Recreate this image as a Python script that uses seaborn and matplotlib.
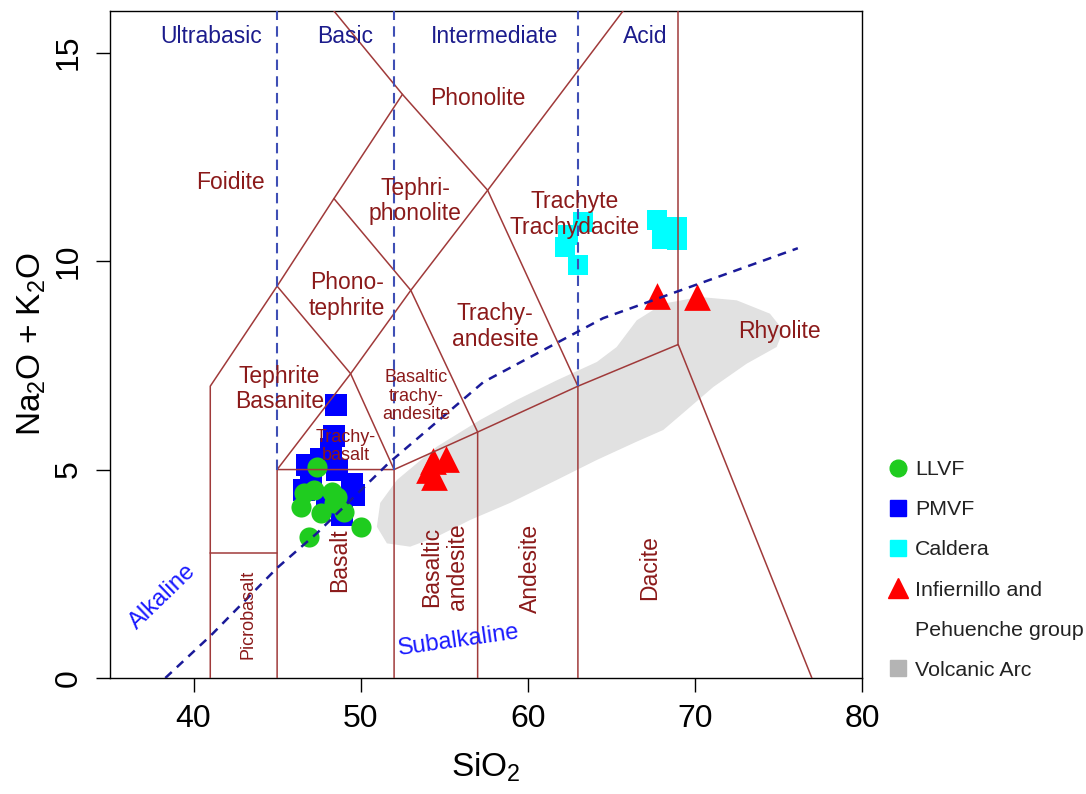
import numpy as np
import pandas as pd
import seaborn as sns
import matplotlib
matplotlib.use("Agg")
import matplotlib.pyplot as plt
from matplotlib.lines import Line2D
from matplotlib.patches import Polygon

# samples (SiO2 wt%, Na2O+K2O wt%)
llvf_sio2 = [47.4, 46.6, 47.2, 48.3, 46.4, 47.6, 48.4, 49.0, 50.0, 46.9, 48.6]
llvf_alk = [5.07, 4.43, 4.50, 4.47, 4.11, 3.96, 4.20, 3.99, 3.63, 3.39, 4.35]

pmvf_sio2 = [48.5, 48.4, 48.2, 46.8, 47.6, 48.6, 47.0, 49.5, 49.6, 48.9, 46.6, 48.0]
pmvf_alk = [6.55, 5.80, 5.50, 5.10, 5.25, 5.00, 4.70, 4.65, 4.40, 3.90, 4.50, 4.30]

caldera_sio2 = [63.3, 62.4, 62.2, 63.0, 67.75, 68.95, 68.05, 68.95, 68.3]
caldera_alk = [10.95, 10.62, 10.35, 9.90, 10.98, 10.82, 10.54, 10.50, 10.70]

infpeh_sio2 = [67.75, 70.1, 54.3, 55.1, 54.4, 54.1]
infpeh_alk = [9.16, 9.13, 5.20, 5.25, 4.82, 5.00]

# volcanic arc field outline
arc_sio2 = [50.97, 51.17, 52.17, 54.56, 57.15, 59.34, 61.73, 64.13, 65.32, 66.52,
            68.11, 70.30, 72.50, 74.49, 75.29, 74.89, 73.10, 71.10, 69.51, 68.11,
            66.52, 64.13, 61.73, 58.94, 56.55, 54.56, 52.96, 51.57]
arc_alk = [3.63, 4.20, 4.75, 5.55, 6.19, 6.67, 7.14, 7.58, 7.94, 8.58,
           8.98, 9.14, 9.06, 8.74, 8.34, 7.94, 7.54, 6.98, 6.43, 5.95,
           5.67, 5.23, 4.75, 4.20, 3.79, 3.39, 3.15, 3.23]

# alkaline / subalkaline divide
alk_div_sio2 = [38.31, 41.06, 45.0, 47.4, 51.66, 57.35, 64.5, 72.69, 76.16]
alk_div_total = [0.0, 1.03, 2.64, 3.48, 5.15, 7.10, 8.63, 9.81, 10.31]

# TAS field boundaries (Le Bas et al. 1986)
tas_lines = [
    [(41, 0), (41, 7), (45, 9.4), (48.4, 11.5), (52.5, 14), (48.4, 16)],
    [(41, 3), (45, 3)],
    [(45, 0), (45, 5), (49.4, 7.3), (53, 9.3), (57.6, 11.7), (65.7, 16)],
    [(45, 9.4), (49.4, 7.3), (52, 5), (52, 0)],
    [(45, 5), (52, 5), (57, 5.9), (63, 7), (69, 8), (77, 0)],
    [(48.4, 11.5), (53, 9.3), (57, 5.9), (57, 0)],
    [(52.5, 14), (57.6, 11.7), (63, 7), (63, 0)],
    [(69, 8), (69, 16)],
]

# silica classes
class_bounds = [(45, 5), (52, 5), (63, 7)]
class_names = ["Ultrabasic", "Basic", "Intermediate", "Acid"]
class_x = [41.07, 49.07, 58.04, 67.0]

field_names = ["Phonolite", "Foidite", "Tephri-\nphonolite", "Trachyte\nTrachydacite",
               "Phono-\ntephrite", "Trachy-\nandesite", "Rhyolite", "Tephrite\nBasanite",
               "Basalt", "Basaltic\nandesite", "Andesite", "Dacite"]
field_x = [57.03, 42.19, 53.26, 62.83, 49.19, 58.04, 75.03, 45.13, 48.77, 55.0, 60.14, 67.31]
field_y = [13.9, 11.89, 11.44, 11.12, 9.18, 8.44, 8.30, 6.93, 2.83, 2.66, 2.64, 2.64]
field_rot = [0, 0, 0, 0, 0, 0, 0, 0, 90, 90, 90, 90]

small_names = ["Basaltic\ntrachy-\nandesite", "Trachy-\nbasalt", "Picrobasalt"]
small_x = [53.32, 49.13, 43.27]
small_y = [6.76, 5.56, 1.53]
small_rot = [0, 0, 90]

sns.set_theme(style="white")
plt.rcParams["font.family"] = ["Liberation Sans", "DejaVu Sans"]
plt.rcParams["mathtext.fontset"] = "custom"
plt.rcParams["mathtext.rm"] = "Liberation Sans"
plt.rcParams["mathtext.it"] = "Liberation Sans:italic"

LINE_C = "#a03a3a"
FIELD_C = "#8b1a1a"
CLASS_C = "#1c1c8c"

fig = plt.figure(figsize=(10.86, 7.94), dpi=100)
ax = fig.add_axes([110 / 1086, 1 - 678 / 794, 752 / 1086, 667 / 794])

ax.add_patch(Polygon(np.column_stack([arc_sio2, arc_alk]), closed=True,
                     facecolor="#e1e1e1", edgecolor="none", zorder=1))

# PMVF first so the LLVF circles sit on top, as in the original
groups = [
    (pmvf_sio2, pmvf_alk, "#0000ff", "s", 230),
    (llvf_sio2, llvf_alk, "#1fcc1f", "o", 210),
    (caldera_sio2, caldera_alk, "#00ffff", "s", 210),
    (infpeh_sio2, infpeh_alk, "#ff0000", "^", 370),
]
for xs, ys, col, mk, sz in groups:
    d = pd.DataFrame({"SiO2": xs, "alk": ys})
    sns.scatterplot(data=d, x="SiO2", y="alk", color=col, marker=mk, s=sz,
                    linewidth=0, legend=False, ax=ax, zorder=2)

for seg in tas_lines:
    xs, ys = zip(*seg)
    ax.plot(xs, ys, color=LINE_C, lw=1.1, zorder=3)

for xb, yb in class_bounds:
    ax.plot([xb, xb], [yb, 16], color="#3f4fb5", lw=1.5, ls=(0, (5, 3)), zorder=3)

ax.plot(alk_div_sio2, alk_div_total, color="#1a1a99", lw=1.8, ls=(0, (3.5, 2.8)), zorder=3)

for name, x in zip(class_names, class_x):
    ax.text(x, 15.38, name, color=CLASS_C, fontsize=16.5, ha="center", va="center", zorder=4)

for name, x, y, r in zip(field_names, field_x, field_y, field_rot):
    ax.text(x, y, name, color=FIELD_C, fontsize=16.5, ha="center", va="center",
            rotation=r, linespacing=1.15, zorder=4)

for name, x, y, r in zip(small_names, small_x, small_y, small_rot):
    ax.text(x, y, name, color=FIELD_C, fontsize=13, ha="center", va="center",
            rotation=r, linespacing=1.1, zorder=4)

ax.text(38.13, 1.94, "Alkaline", color="#1a1aff", fontsize=17, ha="center", va="center",
        rotation=44, zorder=4)
ax.text(55.89, 0.91, "Subalkaline", color="#1a1aff", fontsize=17, ha="center", va="center",
        rotation=8, zorder=4)

ax.set_xlim(35, 80)
ax.set_ylim(0, 16)
ax.set_xticks([40, 50, 60, 70, 80])
ax.set_yticks([0, 5, 10, 15])
ax.tick_params(axis="both", direction="out", length=10, width=1, labelsize=23,
               pad=9, colors="black", bottom=True, left=True)
ax.tick_params(axis="y", labelrotation=90)
for lab in ax.get_yticklabels():
    lab.set_va("center")
for sp in ax.spines.values():
    sp.set_color("black")
    sp.set_linewidth(1)

ax.set_xlabel("SiO$_\\mathrm{2}$", fontsize=24, labelpad=12, color="black")
ax.set_ylabel("Na$_\\mathrm{2}$O + K$_\\mathrm{2}$O", fontsize=24, labelpad=4, color="black")

handles = [
    Line2D([], [], ls="none", marker="o", color="#1fcc1f", markersize=12),
    Line2D([], [], ls="none", marker="s", color="#0000ff", markersize=11.5),
    Line2D([], [], ls="none", marker="s", color="#00ffff", markersize=11.5),
    Line2D([], [], ls="none", marker="^", color="#ff0000", markersize=14.5),
    Line2D([], [], ls="none"),
    Line2D([], [], ls="none", marker="s", color="#b4b4b4", markersize=11.5),
]
labels = ["LLVF", "PMVF", "Caldera", "Infiernillo and", "Pehuenche group", "Volcanic Arc"]
fig.legend(handles, labels, loc="upper left", bbox_to_anchor=(887 / 1086, 1 - 460 / 794),
           frameon=False, fontsize=15.4, labelspacing=0.99, handlelength=1.0,
           handletextpad=0.3, borderpad=0, borderaxespad=0, labelcolor="#222222")

fig.savefig("out.png", dpi=100)
